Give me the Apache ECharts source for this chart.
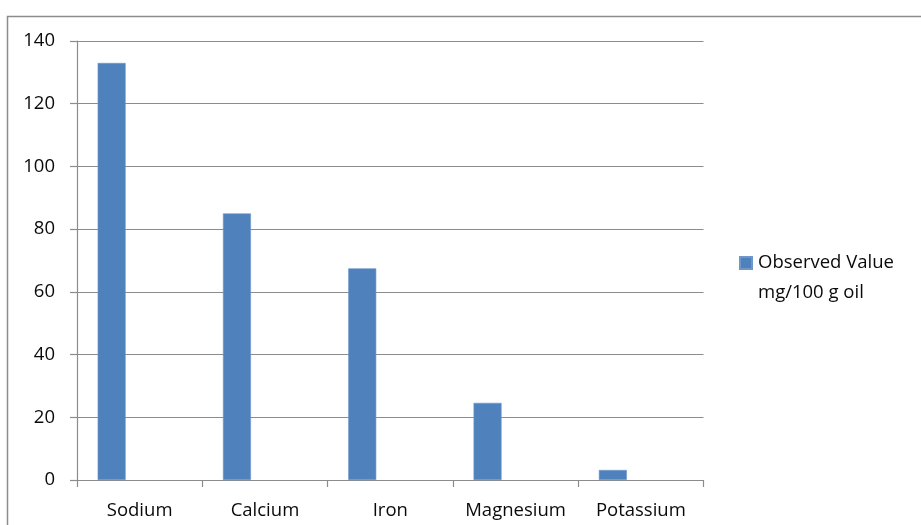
<!DOCTYPE html>
<html>
<head>
<meta charset="utf-8">
<title>Observed Value mg/100 g oil</title>
<script src="https://cdn.jsdelivr.net/npm/echarts@6/dist/echarts.min.js"></script>
<style>
  html, body { margin: 0; padding: 0; background: #ffffff; }
  #chart { width: 921px; height: 525px; }
</style>
</head>
<body>
<div id="chart"></div>
<script>
// Mineral content of the oil sample
const categories = ['Sodium', 'Calcium', 'Iron', 'Magnesium', 'Potassium'];
const observedValues = [133, 85, 67.5, 24.6, 3.2];
// Two unused series slots that sit beside each bar in the cluster
const emptySlotA = [null, null, null, null, null];
const emptySlotB = [null, null, null, null, null];
const yTicks = { min: 0, max: 140, interval: 20 };

const seriesName = 'Observed Value\nmg/100 g oil';
const barColor = '#4F81BD';
const gridColor = '#8c8c8c';
const textColor = '#0a0a0a';
const labelFont = "'Open Sans', 'Liberation Sans', sans-serif";

const chart = echarts.init(document.getElementById('chart'), null, { renderer: 'canvas' });

chart.setOption({
  animation: false,
  backgroundColor: '#ffffff',
  graphic: [{
    type: 'rect',
    shape: { x: 7.5, y: 16.5, width: 1000, height: 600 },
    style: { fill: 'none', stroke: '#8c8c8c', lineWidth: 1.5 },
    silent: true,
    z: -1
  }],
  grid: { left: 77, top: 41, right: 217.5, bottom: 45, containLabel: false },
  legend: {
    data: [seriesName],
    left: 739,
    top: 248,
    orient: 'vertical',
    itemWidth: 12,
    itemHeight: 42,
    itemGap: 0,
    padding: 0,
    icon: 'path://M0,0H12V12H0Z M0,42',
    textStyle: { fontFamily: labelFont, fontSize: 18.5, color: textColor, lineHeight: 30, padding: [0, 0, 0, 1] }
  },
  xAxis: {
    type: 'category',
    data: categories,
    axisLine: { show: true, lineStyle: { color: gridColor, width: 1.2 } },
    axisTick: { show: true, length: 7, alignWithLabel: false, interval: 0, lineStyle: { color: gridColor, width: 1.2 } },
    axisLabel: { fontFamily: labelFont, fontSize: 18.5, color: textColor, margin: 21, interval: 0 },
    splitLine: { show: false }
  },
  yAxis: {
    type: 'value',
    min: yTicks.min,
    max: yTicks.max,
    interval: yTicks.interval,
    axisLine: { show: true, lineStyle: { color: gridColor, width: 1.2 } },
    axisTick: { show: true, length: 7, inside: false, lineStyle: { color: gridColor, width: 1.2 } },
    axisLabel: { fontFamily: labelFont, fontSize: 18.5, color: textColor, margin: 22 },
    splitLine: { show: true, lineStyle: { color: gridColor, width: 1.2 } }
  },
  series: [
    {
      name: seriesName,
      type: 'bar',
      data: observedValues,
      barWidth: 28,
      barGap: '0%',
      itemStyle: { color: barColor, borderColor: '#6f97c9', borderWidth: 0.6 }
    },
    { name: 'slotA', type: 'bar', data: emptySlotA, barWidth: 28, barGap: '0%' },
    { name: 'slotB', type: 'bar', data: emptySlotB, barWidth: 28, barGap: '0%' }
  ]
});
</script>
</body>
</html>
